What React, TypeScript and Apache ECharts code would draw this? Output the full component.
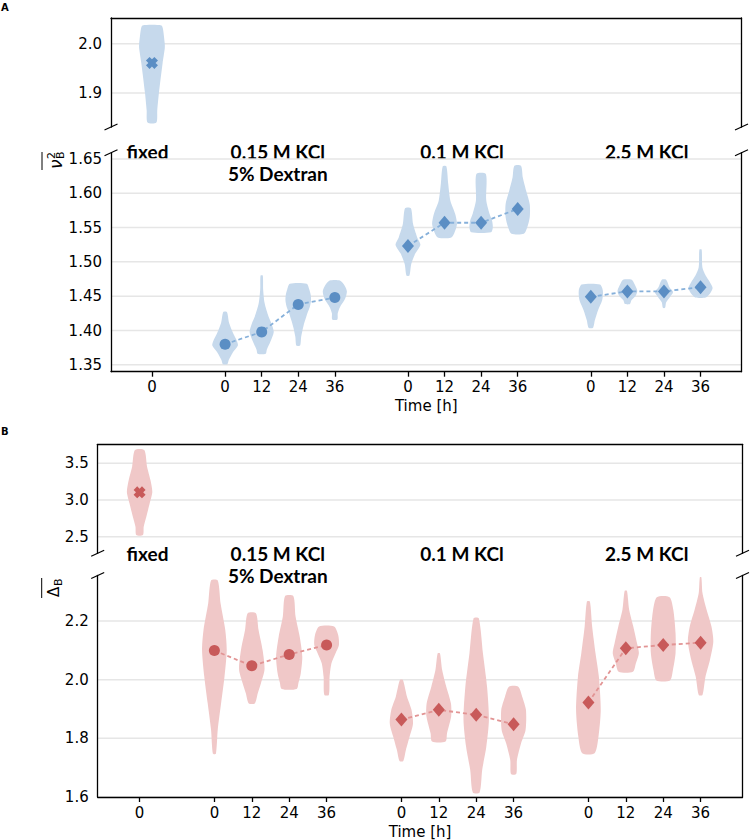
import { useEffect, useRef } from "react";
import * as echarts from "echarts";

// x axis: positions in slot units, one slot per time point
const X_MIN = -1.12;
const X_MAX = 16.12;
const fixedPos = [0];
const groupPos = [
  [2, 3, 4, 5],
  [7, 8, 9, 10],
  [12, 13, 14, 15],
];
const xTickPos = [0, 2, 3, 4, 5, 7, 8, 9, 10, 12, 13, 14, 15];
const xTickLabels = ["0", "0", "12", "24", "36", "0", "12", "24", "36", "0", "12", "24", "36"];
const groupLabels = ["fixed", "0.15 M KCl\n5% Dextran", "0.1 M KCl", "2.5 M KCl"];

// ---- panel A: nu_B^2 ----
const yTicksATop = [1.9, 2.0];
const yTicksABottom = [1.35, 1.4, 1.45, 1.5, 1.55, 1.6, 1.65];
const meanAFixed = [1.961];
const meansA015 = [1.38, 1.398, 1.438, 1.448];
const meansA01 = [1.523, 1.557, 1.557, 1.577];
const meansA25 = [1.449, 1.457, 1.457, 1.463];

// violin outlines: [value, half width]
const violinAFixed = [[2.037, 0.26], [2.03, 0.3], [2.0, 0.35], [1.99, 0.35], [1.96, 0.29], [1.9, 0.19], [1.865, 0.145], [1.84, 0.12]];
const violinsA015 = [
  [[1.427, 0.05], [1.411, 0.11], [1.396, 0.22], [1.385, 0.32], [1.378, 0.35], [1.367, 0.2], [1.357, 0.1], [1.351, 0.06]],
  [[1.48, 0.03], [1.46, 0.04], [1.44, 0.08], [1.42, 0.19], [1.41, 0.27], [1.398, 0.33], [1.384, 0.24], [1.372, 0.14], [1.366, 0.11]],
  [[1.468, 0.23], [1.46, 0.3], [1.452, 0.34], [1.444, 0.35], [1.435, 0.32], [1.425, 0.25], [1.406, 0.14], [1.391, 0.08], [1.378, 0.05]],
  [[1.473, 0.14], [1.467, 0.25], [1.457, 0.33], [1.445, 0.27], [1.434, 0.14], [1.425, 0.08], [1.416, 0.07]],
];
const violinsA01 = [
  [[1.578, 0.08], [1.555, 0.14], [1.536, 0.25], [1.525, 0.34], [1.512, 0.2], [1.497, 0.09], [1.48, 0.04]],
  [[1.639, 0.05], [1.614, 0.1], [1.589, 0.16], [1.57, 0.29], [1.555, 0.34], [1.541, 0.26], [1.535, 0.17]],
  [[1.628, 0.13], [1.59, 0.14], [1.57, 0.23], [1.56, 0.3], [1.55, 0.32], [1.543, 0.27]],
  [[1.64, 0.09], [1.623, 0.14], [1.604, 0.23], [1.584, 0.33], [1.565, 0.33], [1.55, 0.26], [1.541, 0.17]],
];
const violinsA25 = [
  [[1.467, 0.25], [1.458, 0.33], [1.444, 0.31], [1.43, 0.2], [1.415, 0.11], [1.404, 0.06]],
  [[1.474, 0.12], [1.468, 0.19], [1.458, 0.27], [1.451, 0.23], [1.444, 0.11], [1.4385, 0.07]],
  [[1.474, 0.06], [1.463, 0.15], [1.456, 0.25], [1.4485, 0.16], [1.441, 0.06], [1.433, 0.03]],
  [[1.518, 0.03], [1.492, 0.05], [1.48, 0.14], [1.47, 0.26], [1.462, 0.33], [1.454, 0.26], [1.448, 0.14]],
];

// ---- panel B: Delta_B ----
const yTicksBTop = [2.5, 3.0, 3.5];
const yTicksBBottom = [1.6, 1.8, 2.0, 2.2];
const meanBFixed = [3.105];
const meansB015 = [2.099, 2.047, 2.086, 2.118];
const meansB01 = [1.864, 1.897, 1.88, 1.848];
const meansB25 = [1.922, 2.107, 2.118, 2.126];

const violinBFixed = [[3.681, 0.125], [3.454, 0.2], [3.272, 0.29], [3.11, 0.34], [2.955, 0.27], [2.772, 0.18], [2.636, 0.11], [2.523, 0.09]];
const violinsB015 = [
  [[2.338, 0.09], [2.26, 0.165], [2.17, 0.29], [2.1, 0.33], [2.01, 0.27], [1.92, 0.18], [1.83, 0.09], [1.747, 0.04]],
  [[2.226, 0.11], [2.17, 0.18], [2.1, 0.29], [2.035, 0.34], [1.988, 0.245], [1.954, 0.16], [1.919, 0.08]],
  [[2.285, 0.11], [2.215, 0.17], [2.147, 0.28], [2.078, 0.35], [2.022, 0.31], [1.99, 0.25], [1.968, 0.2]],
  [[2.181, 0.2], [2.152, 0.31], [2.118, 0.33], [2.09, 0.24], [2.056, 0.13], [2.01, 0.08], [1.948, 0.06]],
];
const violinsB01 = [
  [[1.999, 0.04], [1.942, 0.15], [1.897, 0.27], [1.85, 0.31], [1.806, 0.22], [1.76, 0.12], [1.723, 0.05]],
  [[2.09, 0.03], [2.033, 0.09], [1.976, 0.2], [1.919, 0.325], [1.874, 0.33], [1.817, 0.22], [1.789, 0.18]],
  [[2.209, 0.07], [2.09, 0.18], [1.976, 0.29], [1.863, 0.34], [1.771, 0.27], [1.692, 0.16], [1.615, 0.09]],
  [[1.976, 0.125], [1.942, 0.23], [1.897, 0.33], [1.828, 0.32], [1.783, 0.2], [1.726, 0.09], [1.678, 0.07]],
];
const violinsB25 = [
  [[2.266, 0.04], [2.181, 0.1], [2.09, 0.19], [2.01, 0.28], [1.897, 0.33], [1.806, 0.27], [1.749, 0.165]],
  [[2.303, 0.03], [2.238, 0.09], [2.181, 0.2], [2.124, 0.3], [2.09, 0.35], [2.056, 0.27], [2.027, 0.19]],
  [[2.281, 0.17], [2.238, 0.27], [2.158, 0.33], [2.09, 0.33], [2.033, 0.26], [1.997, 0.18]],
  [[2.349, 0.02], [2.295, 0.05], [2.238, 0.16], [2.181, 0.29], [2.13, 0.34], [2.067, 0.25], [2.01, 0.13], [1.948, 0.05]],
];

const BLUE = { marker: "#5b8ec4", violin: "#c6d9ec", line: "#86b0da" };
const RED = { marker: "#c85a5a", violin: "#f0c8c8", line: "#e29494" };

// chunky filled "X" like matplotlib's marker="X"
const X_SYMBOL = "path://M3,0L5,2L7,0L10,3L8,5L10,7L7,10L5,8L3,10L0,7L2,5L0,3Z";
const groupSymbols = ["circle", "diamond", "diamond"];
const groupSymbolSizes: any[] = [11, [12, 14], [12, 14]];

const FONT = "DejaVu Sans";
const spine = { show: true, onZero: false, lineStyle: { color: "#000", width: 1.3 } };
const tickFont = { fontFamily: FONT, fontSize: 15, color: "#000" };

// pixel boxes of the four plot areas
const gridBoxes = [
  { left: 111, top: 18, width: 630.5, height: 109 },
  { left: 111, top: 152.7, width: 630.5, height: 219 },
  { left: 97.7, top: 444.3, width: 644.8, height: 109 },
  { left: 97.7, top: 575.5, width: 644.8, height: 221.5 },
];
const yRanges = [
  [1.831, 2.052],
  [1.34, 1.659],
  [2.274, 3.759],
  [1.6, 2.355],
];

const near = (a, b) => Math.abs(a - b) < 1e-6;

function xAxisTop(gridIndex) {
  return {
    type: "value", gridIndex, min: X_MIN, max: X_MAX, position: "top", z: 10,
    axisLine: spine, axisTick: { show: false }, axisLabel: { show: false }, splitLine: { show: false },
  };
}

function xAxisBottom(gridIndex) {
  return {
    type: "value", gridIndex, min: X_MIN, max: X_MAX, position: "bottom", z: 10,
    axisLine: spine,
    axisTick: { show: true, customValues: xTickPos, length: 5, lineStyle: { color: "#000", width: 1.3 } },
    axisLabel: {
      ...tickFont, margin: 8, customValues: xTickPos,
      formatter: (v) => {
        const i = xTickPos.findIndex((p) => near(p, v));
        return i >= 0 ? xTickLabels[i] : "";
      },
    },
    splitLine: { show: false },
    name: "Time [h]", nameLocation: "middle", nameGap: 27, nameTextStyle: { ...tickFont },
  };
}

function yAxisLeft(gridIndex, ticks, digits) {
  return {
    type: "value", gridIndex, min: yRanges[gridIndex][0], max: yRanges[gridIndex][1], position: "left", z: 10,
    axisLine: spine, axisTick: { show: false }, splitLine: { show: false },
    axisLabel: { ...tickFont, margin: 9, customValues: ticks, formatter: (v) => v.toFixed(digits) },
  };
}

function yAxisRight(gridIndex) {
  return {
    type: "value", gridIndex, min: yRanges[gridIndex][0], max: yRanges[gridIndex][1], position: "right", z: 10,
    axisLine: spine, axisTick: { show: false }, axisLabel: { show: false }, splitLine: { show: false },
  };
}

function gridLines(gridIndex, ticks) {
  return {
    type: "custom", xAxisIndex: gridIndex, yAxisIndex: gridIndex, z: 0, silent: true,
    data: ticks.map((v) => [X_MIN, v]), encode: { x: 0, y: 1 },
    renderItem: (params, api) => {
      const v = api.value(1);
      const a = api.coord([X_MIN, v]);
      const b = api.coord([X_MAX, v]);
      return { type: "line", shape: { x1: a[0], y1: a[1], x2: b[0], y2: b[1] }, style: { stroke: "#e6e6e6", lineWidth: 1.5 } };
    },
  };
}

function violins(gridIndex, positions, centers, shapes, fill) {
  return {
    type: "custom", xAxisIndex: gridIndex, yAxisIndex: gridIndex, z: 2, silent: true, clip: false,
    data: positions.map((x, i) => [x, centers[i]]), encode: { x: 0, y: 1 },
    renderItem: (params, api) => {
      const x = api.value(0);
      const shape = shapes[params.dataIndex];
      const right = shape.map(([v, w]) => api.coord([x + w, v]));
      const left = shape.slice().reverse().map(([v, w]) => api.coord([x - w, v]));
      return { type: "polygon", shape: { points: right.concat(left), smooth: 0.25 }, style: { fill } };
    },
  };
}

function meanLine(gridIndex, positions, means, color) {
  return {
    type: "line", xAxisIndex: gridIndex, yAxisIndex: gridIndex, z: 3, silent: true,
    data: positions.map((x, i) => [x, means[i]]), symbol: "none",
    lineStyle: { color, width: 1.8, type: [4, 3] },
  };
}

function markers(gridIndex, positions, means, symbol, size, color) {
  return {
    type: "scatter", xAxisIndex: gridIndex, yAxisIndex: gridIndex, z: 4, silent: true,
    data: positions.map((x, i) => [x, means[i]]), symbol, symbolSize: size,
    itemStyle: { color, opacity: 1 },
  };
}

function panelSeries(topIdx, botIdx, fixedMean, fixedViolin, groupMeans, groupViolins, col, ticksTop, ticksBot) {
  const out: any[] = [gridLines(topIdx, ticksTop), gridLines(botIdx, ticksBot)];
  out.push(violins(topIdx, fixedPos, fixedMean, [fixedViolin], col.violin));
  out.push(markers(topIdx, fixedPos, fixedMean, X_SYMBOL, 12, col.marker));
  groupPos.forEach((pos, g) => {
    out.push(violins(botIdx, pos, groupMeans[g], groupViolins[g], col.violin));
    out.push(meanLine(botIdx, pos, groupMeans[g], col.line));
    out.push(markers(botIdx, pos, groupMeans[g], groupSymbols[g], groupSymbolSizes[g], col.marker));
  });
  return out;
}

function breakMark(cx, cy) {
  return {
    type: "line", shape: { x1: cx - 6.5, y1: cy + 3, x2: cx + 6.5, y2: cy - 3 },
    style: { stroke: "#000", lineWidth: 1.2 },
  };
}

function breakMarks(topIdx, botIdx) {
  const t = gridBoxes[topIdx];
  const b = gridBoxes[botIdx];
  const tb = t.top + t.height;
  return [
    breakMark(t.left, tb), breakMark(t.left + t.width, tb),
    breakMark(b.left, b.top), breakMark(b.left + b.width, b.top),
  ];
}

const labelX = [147.5, 277.8, 462, 646.7];

function groupTexts(y) {
  return groupLabels.map((text, i) => ({
    type: "text", x: labelX[i], y,
    style: { text, fill: "#000", fontFamily: "Lato", fontWeight: "bold", fontSize: 19, lineHeight: 22, align: "center", verticalAlign: "top" },
  }));
}

function txt(text, x, y, size, extra = {}) {
  return {
    type: "text", x, y,
    style: { text, fill: "#000", fontFamily: FONT, fontSize: size, align: "left", verticalAlign: "middle", ...extra },
  };
}

const App = () => {
  const chartRef = useRef(null);

  useEffect(() => {
    if (!chartRef.current) return;
    const chart = echarts.init(chartRef.current, null, { renderer: "svg" });

    const option = {
      animation: false,
      backgroundColor: "#fff",
      grid: gridBoxes.map((g) => ({ ...g, containLabel: false })),
      xAxis: [xAxisTop(0), xAxisBottom(1), xAxisTop(2), xAxisBottom(3)],
      yAxis: [
        yAxisLeft(0, yTicksATop, 1),
        yAxisLeft(1, yTicksABottom, 2),
        yAxisLeft(2, yTicksBTop, 1),
        yAxisLeft(3, yTicksBBottom, 1),
        yAxisRight(0), yAxisRight(1), yAxisRight(2), yAxisRight(3),
      ],
      series: [
        ...panelSeries(0, 1, meanAFixed, violinAFixed, [meansA015, meansA01, meansA25], [violinsA015, violinsA01, violinsA25], BLUE, yTicksATop, yTicksABottom),
        ...panelSeries(2, 3, meanBFixed, violinBFixed, [meansB015, meansB01, meansB25], [violinsB015, violinsB01, violinsB25], RED, yTicksBTop, yTicksBBottom),
      ],
      graphic: [
        txt("A", 1, 7, 10, { fontWeight: "bold" }),
        txt("B", 1, 431, 10, { fontWeight: "bold" }),
        ...groupTexts(140),
        ...groupTexts(542),
        ...breakMarks(0, 1),
        ...breakMarks(2, 3),
        {
          type: "group", x: 56, y: 169, rotation: Math.PI / 2,
          children: [
            txt("ν", 0, 0, 17, { fontStyle: "italic" }),
            txt("2", 10, -5, 11),
            txt("B", 10, 4, 11),
            { type: "line", shape: { x1: -1, y1: -14, x2: 17, y2: -14 }, style: { stroke: "#000", lineWidth: 1 } },
          ],
        },
        {
          type: "group", x: 54, y: 597, rotation: Math.PI / 2,
          children: [
            txt("Δ", 0, 0, 15),
            txt("B", 11, 4, 11),
            { type: "line", shape: { x1: -1, y1: -12.3, x2: 19, y2: -12.3 }, style: { stroke: "#000", lineWidth: 1 } },
          ],
        },
      ],
    };

    chart.setOption(option);

    return () => {
      chart.dispose();
    };
  }, []);

  return <div ref={chartRef} style={{ position: "absolute", left: 0, top: 0, width: 751, height: 840 }} />;
};

export default App;
